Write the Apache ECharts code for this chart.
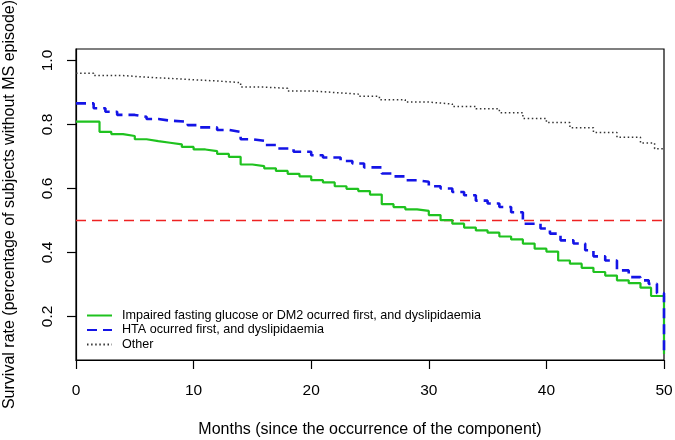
<!DOCTYPE html>
<html>
<head>
<meta charset="utf-8">
<script src="https://cdn.jsdelivr.net/npm/echarts@6/dist/echarts.min.js"></script>
<style>html,body{margin:0;padding:0;background:#fff}#c{width:675px;height:440px}</style>
</head>
<body>
<div id="c"></div>
<script>
// Survival curves (step functions): [month, survival]
var seriesNames = [
  'Impaired fasting glucose or DM2 ocurred first, and dyslipidaemia',
  'HTA ocurred first, and dyslipidaemia',
  'Other'
];
var greenMonths = [0,2,3,4,5,6,7,8,9,10,11,12,13,14,15,16,17,18,19,20,21,22,23,24,25,26,27,28,29,30,31,32,33,34,35,36,37,38,39,40,41,42,43,44,45,46,47,48,48.9,50];
var greenValues = [0.809,0.777,0.770,0.764,0.754,0.748,0.743,0.738,0.730,0.722,0.717,0.708,0.699,0.675,0.670,0.663,0.655,0.646,0.638,0.626,0.619,0.607,0.599,0.592,0.581,0.551,0.542,0.535,0.530,0.517,0.501,0.490,0.478,0.469,0.462,0.450,0.441,0.428,0.412,0.403,0.375,0.365,0.352,0.339,0.328,0.313,0.304,0.290,0.264,0.083];
var blueMonths = [0,1.5,2.5,3.5,5,6,7,8,9.5,10.5,12,13,14,15,16,17,18.5,20,21,22.5,23.5,24.5,26,27,28,29,30,31,32,33,34,35,36,37,38,39.5,40.3,41.2,42.3,43.3,44,45,46,47,48,48.7,49.4,50];
var blueValues = [0.866,0.851,0.840,0.830,0.824,0.817,0.812,0.809,0.798,0.791,0.783,0.777,0.754,0.749,0.736,0.725,0.715,0.704,0.697,0.686,0.678,0.666,0.647,0.638,0.626,0.621,0.607,0.600,0.589,0.579,0.562,0.553,0.542,0.526,0.490,0.475,0.459,0.438,0.428,0.407,0.388,0.375,0.344,0.323,0.313,0.302,0.273,0.083];
var otherMonths = [0,1.5,4,6,8,10,12,14,16,18,20,22,24,25.8,28,30,32,34,36,38,40,42,44,46,48,49.2,50];
var otherValues = [0.960,0.953,0.948,0.944,0.940,0.936,0.931,0.917,0.913,0.905,0.900,0.895,0.888,0.877,0.870,0.864,0.856,0.849,0.837,0.819,0.806,0.790,0.775,0.760,0.742,0.724,0.720];
var xTicks = [0,10,20,30,40,50];
var yTicks = [0.2,0.4,0.6,0.8,1.0];
var medianLevel = 0.5;

function pairs(xs, ys){ return xs.map(function(x,i){ return [x, ys[i]]; }); }

var FONT = 'Liberation Sans, Arial, sans-serif';
var chart = echarts.init(document.getElementById('c'), null, {renderer:'canvas'});
chart.setOption({
  animation: false,
  backgroundColor: '#fff',
  textStyle: {fontFamily: FONT, color: '#000'},
  grid: {left: 76, top: 49, right: 11, bottom: 80, show: true, borderColor: '#000', borderWidth: 1.2,
         containLabel: false, outerBoundsMode: 'none'},
  legend: {
    orient: 'vertical', left: 86, top: 309, padding: 0, itemWidth: 25, itemHeight: 14, itemGap: 1.5,
    data: seriesNames,
    itemStyle: {opacity: 0},
    textStyle: {fontFamily: FONT, fontSize: 12.6, color: '#000', padding: [0,0,0,5]}
  },
  xAxis: {
    type: 'value', min: 0, max: 50, interval: 10,
    name: 'Months (since the occurrence of the component)', nameLocation: 'middle', nameGap: 62,
    nameTextStyle: {fontFamily: FONT, fontSize: 16, color: '#000'},
    axisLine: {show: true, onZero: false, lineStyle: {color: '#000', width: 1.2}},
    axisTick: {show: true, inside: false, length: 9, lineStyle: {color: '#000', width: 1.2}},
    axisLabel: {show: true, margin: 23, fontSize: 15.5, color: '#000', fontFamily: FONT, customValues: xTicks},
    splitLine: {show: false}
  },
  yAxis: {
    type: 'value', min: 0.064, max: 1.036,
    name: 'Survival rate (percentage of subjects without MS episode)', nameLocation: 'middle', nameGap: 58, nameRotate: 90,
    nameTextStyle: {fontFamily: FONT, fontSize: 16, color: '#000'},
    axisLine: {show: true, onZero: false, lineStyle: {color: '#000', width: 1.2}},
    axisTick: {show: true, inside: false, length: 9, customValues: yTicks, lineStyle: {color: '#000', width: 1.2}},
    axisLabel: {show: true, margin: 20, rotate: 90, fontSize: 15.5, color: '#000', fontFamily: FONT, customValues: yTicks,
      formatter: function(v){ return v.toFixed(1); }},
    splitLine: {show: false}
  },
  series: [
    {name: seriesNames[0], type: 'line', step: 'end', symbol: 'none', data: pairs(greenMonths, greenValues),
     lineStyle: {color: '#1fc21f', width: 2.2, type: 'solid'}, itemStyle: {color: '#1fc21f'}, z: 3},
    {name: seriesNames[1], type: 'line', step: 'end', symbol: 'none', data: pairs(blueMonths, blueValues),
     lineStyle: {color: '#1414e6', width: 2.6, type: [10, 6]}, itemStyle: {color: '#1414e6'}, z: 4},
    {name: seriesNames[2], type: 'line', step: 'end', symbol: 'none', data: pairs(otherMonths, otherValues),
     lineStyle: {color: '#333', width: 1.5, type: [1.5, 2.6]}, itemStyle: {color: '#333'}, z: 2},
    {name: 'median', type: 'line', symbol: 'none', silent: true, data: [[0, medianLevel],[50, medianLevel]],
     lineStyle: {color: '#ee2222', width: 1.6, type: [10, 6]}, z: 1}
  ]
});
</script>
</body>
</html>
